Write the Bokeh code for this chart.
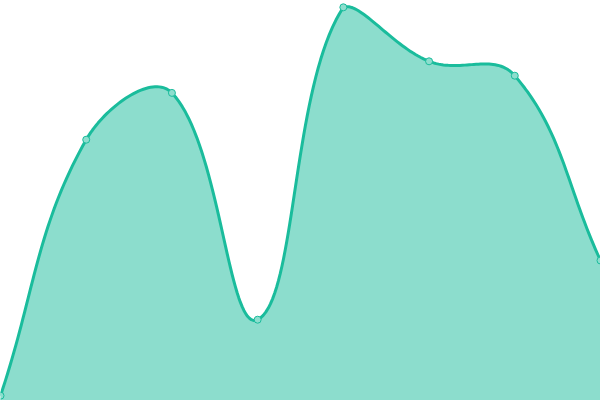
import math
from bokeh.plotting import figure
from bokeh.models import Range1d, ColumnDataSource
from bokeh.embed import file_html
from bokeh.resources import INLINE

# ---- data ----
x_index = [0, 1, 2, 3, 4, 5, 6, 7]
values = [1.2, 65.2, 76.9, 20.2, 98.3, 84.8, 81.2, 35.0]
Y_MIN, Y_MAX = 0, 100

# ---- style / layout ----
W, H = 600, 400
TENSION = 0.4
LINE_COLOR = "#1abc9c"


def smooth_curve(xs, ys, samples=40):
    """Chart.js-like tension spline, computed in screen space, returned in data space."""
    n = len(xs)
    xmax = xs[-1]
    px = [x / xmax * W for x in xs]
    py = [(Y_MAX - y) / (Y_MAX - Y_MIN) * H for y in ys]
    cp1, cp2 = [], []
    for i in range(n):
        j0 = max(i - 1, 0)
        j2 = min(i + 1, n - 1)
        x0, y0 = px[j0], py[j0]
        x1, y1 = px[i], py[i]
        x2, y2 = px[j2], py[j2]
        d01 = math.hypot(x1 - x0, y1 - y0)
        d12 = math.hypot(x2 - x1, y2 - y1)
        tot = d01 + d12
        s01 = d01 / tot if tot else 0
        s12 = d12 / tot if tot else 0
        fa, fb = TENSION * s01, TENSION * s12
        a = (x1 - fa * (x2 - x0), y1 - fa * (y2 - y0))
        b = (x1 + fb * (x2 - x0), y1 + fb * (y2 - y0))
        clamp = lambda p: (min(max(p[0], 0), W), min(max(p[1], 0), H))
        cp1.append(clamp(a))
        cp2.append(clamp(b))
    outx, outy = [px[0]], [py[0]]
    for i in range(1, n):
        P0 = (px[i - 1], py[i - 1])
        C1 = cp2[i - 1]
        C2 = cp1[i]
        P3 = (px[i], py[i])
        for k in range(1, samples + 1):
            t = k / samples
            u = 1 - t
            bx = u**3 * P0[0] + 3 * u * u * t * C1[0] + 3 * u * t * t * C2[0] + t**3 * P3[0]
            by = u**3 * P0[1] + 3 * u * u * t * C1[1] + 3 * u * t * t * C2[1] + t**3 * P3[1]
            outx.append(bx)
            outy.append(by)
    dx = [v / W * xmax for v in outx]
    dy = [Y_MAX - v / H * (Y_MAX - Y_MIN) for v in outy]
    return dx, dy


cx, cy = smooth_curve(x_index, values)

p = figure(width=W, height=H, output_backend="svg", toolbar_location=None,
           x_range=Range1d(0, x_index[-1]), y_range=Range1d(Y_MIN, Y_MAX),
           x_axis_location=None, y_axis_location=None, min_border=0)
p.grid.visible = False
p.outline_line_color = None
p.background_fill_color = "white"
p.border_fill_color = "white"

curve = ColumnDataSource(dict(x=cx, y=cy, base=[Y_MIN] * len(cx)))
p.varea(x="x", y1="base", y2="y", source=curve, fill_color=LINE_COLOR, fill_alpha=0.5)
p.line(x="x", y="y", source=curve, line_color=LINE_COLOR, line_width=3, line_join="round")
p.scatter(x=x_index, y=values, size=7, fill_color="#8ddece", line_color=LINE_COLOR, line_width=1)

open("out.html", "w").write(file_html(p, INLINE))
